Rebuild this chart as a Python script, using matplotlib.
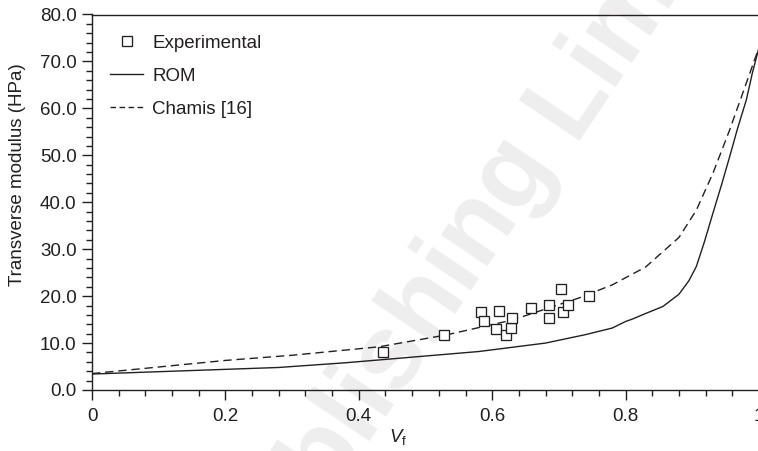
import numpy as np
import matplotlib
matplotlib.use("Agg")
import matplotlib.pyplot as plt
from matplotlib.ticker import MultipleLocator, FixedLocator, FixedFormatter
from matplotlib.font_manager import FontProperties
from matplotlib.lines import Line2D

# Experimental transverse modulus vs fibre volume fraction
vf_exp = [0.436, 0.527, 0.583, 0.587, 0.605, 0.610, 0.620, 0.628, 0.629,
          0.658, 0.685, 0.685, 0.703, 0.706, 0.713, 0.745]
e_exp = [8.0, 11.7, 16.6, 14.7, 12.9, 16.8, 11.8, 13.2, 15.3,
         17.4, 18.1, 15.3, 21.5, 16.7, 18.1, 20.1]

# Rule of mixtures prediction
vf_rom = [0.0, 0.1, 0.2, 0.28, 0.38, 0.48, 0.58, 0.68, 0.74, 0.78, 0.80, 0.81,
          0.83, 0.856, 0.88, 0.895, 0.906, 0.918, 0.931, 0.944, 0.956, 0.968,
          0.981, 0.99, 1.0]
e_rom = [3.4, 3.9, 4.4, 4.8, 5.8, 7.0, 8.2, 10.0, 11.8, 13.2, 14.6, 15.1,
         16.3, 17.8, 20.4, 23.3, 26.3, 31.5, 37.7, 43.8, 49.7, 55.8,
         61.8, 67.5, 73.0]

# Chamis model prediction
vf_chamis = [0.0, 0.1, 0.2, 0.3, 0.43, 0.53, 0.63, 0.73, 0.78, 0.83, 0.88,
             0.906, 0.931, 0.956, 0.981, 1.0]
e_chamis = [3.5, 4.9, 6.3, 7.4, 9.2, 11.7, 14.9, 19.6, 22.4, 26.2, 32.5,
            38.3, 46.2, 55.4, 65.4, 73.0]

x_ticks = [0.0, 0.2, 0.4, 0.6, 0.8, 1.0]
x_tick_labels = ["0", "0.2", "0.4", "0.6", "0.8", "1"]
y_ticks = [0, 10, 20, 30, 40, 50, 60, 70, 80]
y_tick_labels = ["0.0", "10.0", "20.0", "30.0", "40.0", "50.0", "60.0", "70.0", "80.0"]

INK = "#231f20"
FONT = "Liberation Sans"
FS = 13.5

plt.rcParams["font.family"] = [FONT, "DejaVu Sans"]
plt.rcParams["mathtext.fontset"] = "custom"
plt.rcParams["mathtext.rm"] = FONT
plt.rcParams["mathtext.it"] = FONT + ":italic"

W, H, DPI = 758, 451, 100
fig = plt.figure(figsize=(W / DPI, H / DPI), dpi=DPI)
fig.patch.set_facecolor("white")
ax = fig.add_axes([92 / W, 61 / H, 667 / W, 375.5 / H])
ax.set_facecolor("none")

ax.plot(vf_rom, e_rom, color=INK, lw=1.0, solid_joinstyle="round")
ax.plot(vf_chamis, e_chamis, color=INK, lw=1.0, dashes=(6, 3.5))
ax.plot(vf_exp, e_exp, ls="none", marker="s", ms=7.8, mfc="white",
        mec=INK, mew=0.95, zorder=3)

ax.set_xlim(0, 1.0)
ax.set_ylim(0, 80)
ax.xaxis.set_major_locator(FixedLocator(x_ticks))
ax.xaxis.set_major_formatter(FixedFormatter(x_tick_labels))
ax.yaxis.set_major_locator(FixedLocator(y_ticks))
ax.yaxis.set_major_formatter(FixedFormatter(y_tick_labels))
ax.xaxis.set_minor_locator(MultipleLocator(0.04))
ax.yaxis.set_minor_locator(MultipleLocator(2))
ax.tick_params(which="major", direction="out", length=7, width=1.0,
               color=INK, labelcolor=INK, labelsize=FS, pad=4)
ax.tick_params(which="minor", direction="out", length=4, width=1.0, color=INK)
ax.tick_params(axis="x", which="major", pad=6)

for side in ("left", "bottom", "top"):
    ax.spines[side].set_color(INK)
    ax.spines[side].set_linewidth(1.0)
ax.spines["right"].set_visible(False)

fig.text(18 / W, 1 - 175 / H, "Transverse modulus (HPa)", rotation=90,
         ha="center", va="center", fontsize=FS, color=INK)
fig.text(398 / W, 1 - 437 / H, r"$V_{\mathrm{f}}$", ha="center", va="center",
         fontsize=FS, color=INK)

handles = [
    Line2D([], [], ls="none", marker="s", ms=7.8, mfc="white", mec=INK, mew=0.95),
    Line2D([], [], color=INK, lw=1.0),
    Line2D([], [], color=INK, lw=1.0, dashes=(4, 2.5)),
]
leg = ax.legend(handles, ["Experimental", "ROM", "Chamis [16]"],
                loc="upper left", bbox_to_anchor=(0.027, 0.947), frameon=False,
                fontsize=FS, handlelength=1.76, handletextpad=0.5,
                labelspacing=0.86, borderpad=0, borderaxespad=0)
for t in leg.get_texts():
    t.set_color(INK)

# faint publisher watermark running diagonally behind the plot
wm = FontProperties(family=FONT, weight="bold", size=76)
ang = 56.0
th = np.deg2rad(ang)
ox, oy = 573, H - 140
em = 76 * DPI / 72
gap = 0.278 * em
fig.text(ox / W, oy / H, "Limited", rotation=ang, rotation_mode="anchor",
         ha="left", va="baseline", fontproperties=wm, color="#eeeeee", zorder=-5)
fig.text((ox - gap * np.cos(th)) / W, (oy - gap * np.sin(th)) / H,
         "Woodhead Publishing", rotation=ang, rotation_mode="anchor",
         ha="right", va="baseline", fontproperties=wm, color="#eeeeee", zorder=-5)

fig.savefig("out.png", dpi=DPI, facecolor="white")
